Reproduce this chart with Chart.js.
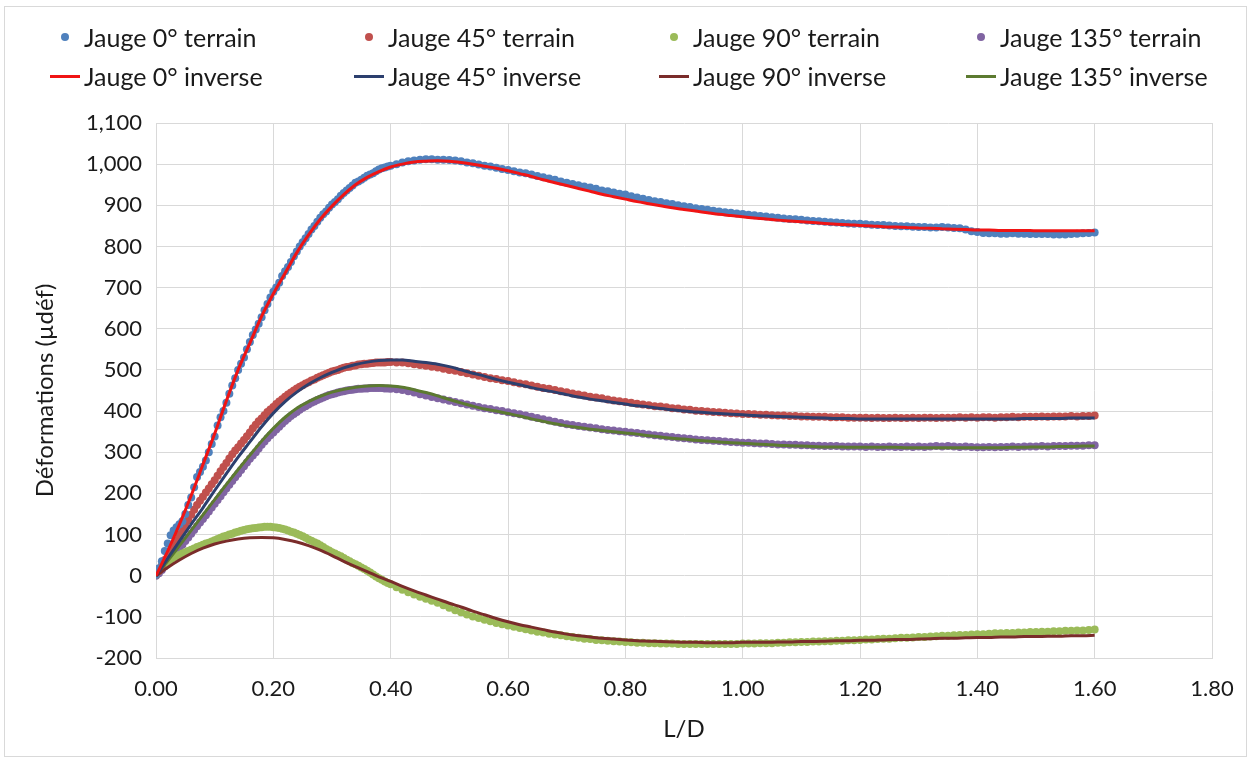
<!DOCTYPE html>
<html>
<head>
<meta charset="utf-8">
<title>Jauges - terrain / inverse</title>
<script src="https://cdn.jsdelivr.net/npm/chart.js"></script>
<style>
  html, body { margin: 0; padding: 0; background: #fff; }
  #wrap { position: relative; width: 1252px; height: 761px; font-family: Lato, "Open Sans", sans-serif; }
  #frame { position: absolute; left: 4px; top: 6px; width: 1243px; height: 751px; border: 1px solid #d9d9d9; box-sizing: border-box; }
  #chart { position: absolute; left: 0; top: 0; }
  .leg { position: absolute; height: 30px; line-height: 30px; font-size: 25px; color: #1a1a1a; white-space: nowrap; }
  .leg .sym { position: absolute; left: 0; top: 0; width: 30px; height: 30px; }
  .leg .dot { position: absolute; left: 11px; top: 11px; width: 8px; height: 8px; border-radius: 50%; }
  .leg .bar { position: absolute; left: 0; top: 14px; width: 30px; height: 3px; }
  .leg .txt { position: absolute; left: 34px; top: 0; }
</style>
</head>
<body>
<div id="wrap">
  <div id="frame"></div>
  <canvas id="chart" width="1252" height="761"></canvas>
  <div id="legend"></div>
</div>
<script>
// L/D sampling of the field gauges (finer over the rising part)
const terrainX = [
  0.000,0.005,0.010,0.015,0.020,0.025,0.030,0.035,0.040,0.045,
  0.050,0.055,0.060,0.065,0.070,0.075,0.080,0.085,0.090,0.095,
  0.100,0.105,0.110,0.115,0.120,0.125,0.130,0.135,0.140,0.145,
  0.150,0.155,0.160,0.165,0.170,0.175,0.180,0.185,0.190,0.195,
  0.200,0.205,0.210,0.215,0.220,0.225,0.230,0.235,0.240,0.245,
  0.250,0.255,0.260,0.265,0.270,0.275,0.280,0.285,0.290,0.295,
  0.300,0.305,0.310,0.315,0.320,0.325,0.330,0.335,0.340,0.345,
  0.350,0.355,0.360,0.365,0.370,0.375,0.380,0.385,0.390,0.395,
  0.40,0.41,0.42,0.43,0.44,0.45,0.46,0.47,0.48,0.49,
  0.50,0.51,0.52,0.53,0.54,0.55,0.56,0.57,0.58,0.59,
  0.60,0.61,0.62,0.63,0.64,0.65,0.66,0.67,0.68,0.69,
  0.70,0.71,0.72,0.73,0.74,0.75,0.76,0.77,0.78,0.79,
  0.80,0.81,0.82,0.83,0.84,0.85,0.86,0.87,0.88,0.89,
  0.90,0.91,0.92,0.93,0.94,0.95,0.96,0.97,0.98,0.99,
  1.00,1.01,1.02,1.03,1.04,1.05,1.06,1.07,1.08,1.09,
  1.10,1.11,1.12,1.13,1.14,1.15,1.16,1.17,1.18,1.19,
  1.20,1.21,1.22,1.23,1.24,1.25,1.26,1.27,1.28,1.29,
  1.30,1.31,1.32,1.33,1.34,1.35,1.36,1.37,1.38,1.39,
  1.40,1.41,1.42,1.43,1.44,1.45,1.46,1.47,1.48,1.49,
  1.50,1.51,1.52,1.53,1.54,1.55,1.56,1.57,1.58,1.59,
  1.60
];

// measured strains (µdef)
const jauge0Terrain = [
  2,18,35,60,78,98,110,118,125,132,
  150,172,190,215,240,252,265,280,300,320,
  338,365,385,400,420,442,462,480,500,515,
  530,550,568,585,598,612,628,645,660,676,
  690,700,712,728,740,750,762,776,788,800,
  810,820,830,841,850,860,870,878,885,894,
  902,908,915,923,930,936,942,948,955,958,
  962,967,972,975,978,983,987,990,992,994,
  996,1000,1004,1007,1009,1011,1012,1012,1011,1011,
  1010,1009,1007,1004,1002,999,996,994,991,988,
  986,983,980,978,975,971,968,965,962,958,
  955,952,949,946,943,940,936,934,931,928,
  926,922,919,916,913,910,908,905,903,900,
  898,896,893,891,889,887,885,883,882,880,
  879,877,876,874,873,871,870,868,867,866,
  865,863,862,861,860,859,858,857,856,855,
  855,854,853,852,852,851,850,849,849,848,
  847,847,846,846,847,846,845,844,841,837,
  835,833,832,832,831,831,832,831,831,830,
  830,830,830,829,829,829,830,831,832,833,
  834
];
const jauge45Terrain = [
  2,12,25,38,50,62,72,86,100,110,
  120,135,148,160,172,182,192,202,212,222,
  232,243,254,264,274,285,295,304,312,321,
  330,339,348,358,367,375,382,390,398,404,
  410,417,423,429,435,440,445,450,455,459,
  463,467,470,474,477,481,484,487,490,493,
  496,498,500,503,505,507,508,510,511,513,
  514,515,515,516,517,518,518,518,518,519,
  519,518,518,516,514,512,510,508,506,503,
  500,498,495,492,489,486,483,480,478,475,
  473,470,467,465,462,459,456,454,451,448,
  446,443,440,438,435,433,431,428,426,424,
  422,420,418,416,414,412,411,409,407,406,
  404,403,401,400,399,398,397,396,395,394,
  393,393,392,391,391,390,389,389,388,388,
  387,387,386,386,386,385,385,385,384,384,
  384,384,383,384,383,383,384,383,383,384,
  383,384,384,383,384,384,384,385,384,385,
  384,385,385,384,385,385,386,385,386,386,
  386,387,386,387,387,387,388,387,388,388,
  389
];
const jauge90Terrain = [
  2,12,22,28,34,39,44,47,50,54,
  57,60,63,66,70,72,75,78,80,83,
  86,89,92,95,97,100,102,105,107,109,
  111,113,114,115,116,117,118,119,119,119,
  118,117,116,114,112,110,107,105,102,99,
  96,92,88,85,81,78,74,70,65,61,
  57,54,50,47,43,39,35,31,28,24,
  20,16,12,8,3,-2,-6,-10,-14,-18,
  -21,-28,-34,-40,-46,-51,-56,-61,-66,-72,
  -78,-84,-89,-94,-99,-103,-107,-111,-115,-118,
  -121,-124,-127,-130,-133,-136,-138,-141,-143,-145,
  -147,-149,-151,-153,-154,-156,-157,-158,-159,-160,
  -161,-162,-163,-163,-164,-164,-165,-165,-165,-166,
  -166,-166,-166,-166,-166,-166,-166,-166,-166,-166,
  -165,-165,-165,-164,-164,-164,-163,-163,-162,-162,
  -161,-161,-160,-160,-159,-159,-158,-158,-157,-157,
  -156,-155,-155,-154,-153,-153,-152,-151,-151,-150,
  -149,-149,-148,-147,-146,-146,-145,-144,-144,-143,
  -142,-142,-141,-140,-140,-139,-139,-138,-138,-137,
  -137,-136,-136,-135,-135,-134,-134,-133,-133,-132,
  -131
];
const jauge135Terrain = [
  0,6,14,23,32,41,50,58,66,75,
  84,93,102,111,120,129,138,147,156,166,
  175,184,193,203,212,221,230,239,248,257,
  266,275,284,292,300,309,318,326,334,341,
  348,355,362,369,376,382,388,393,398,403,
  408,412,416,420,423,427,430,433,436,439,
  441,443,445,447,448,450,451,452,453,454,
  454,455,455,456,456,456,456,456,455,455,
  454,453,451,448,445,441,438,434,431,428,
  425,422,419,416,413,410,407,405,402,400,
  397,395,392,389,386,383,380,377,374,371,
  368,366,364,362,360,358,356,354,353,351,
  350,348,347,345,343,341,340,338,337,335,
  334,333,331,330,329,328,327,326,325,324,
  323,323,322,321,321,320,319,319,318,318,
  317,317,316,316,315,315,315,314,314,314,
  314,313,314,313,313,314,313,313,314,313,
  314,313,314,315,314,315,314,313,314,313,
  312,312,313,312,313,313,314,313,314,314,
  314,315,314,315,315,315,316,316,316,317,
  317
];

// L/D sampling of the back-calculated curves
const inverseX = [
  0.00,0.02,0.04,0.06,0.08,0.10,0.12,0.14,0.16,0.18,
  0.20,0.22,0.24,0.26,0.28,0.30,0.32,0.34,0.36,0.38,
  0.40,0.42,0.44,0.46,0.48,0.50,0.52,0.54,0.56,0.58,
  0.60,0.62,0.64,0.66,0.68,0.70,0.72,0.74,0.76,0.78,
  0.80,0.82,0.84,0.86,0.88,0.90,0.92,0.94,0.96,0.98,
  1.00,1.02,1.04,1.06,1.08,1.10,1.12,1.14,1.16,1.18,
  1.20,1.22,1.24,1.26,1.28,1.30,1.32,1.34,1.36,1.38,
  1.40,1.42,1.44,1.46,1.48,1.50,1.52,1.54,1.56,1.58,
  1.60
];
const jauge0Inverse = [
  0,60,125,195,270,345,425,500,565,630,
  685,735,785,828,866,898,926,950,968,982,
  993,1000,1005,1007,1008,1007,1004,1000,995,990,
  984,977,970,962,955,948,941,934,927,921,
  915,909,904,899,894,890,886,882,878,875,
  872,869,867,864,862,860,858,856,854,853,
  851,850,848,847,846,845,844,843,842,841,
  840,840,839,839,839,838,838,838,838,838,
  838
];
const jauge45Inverse = [
  0,42,84,125,165,207,248,288,325,362,
  395,423,446,465,481,494,505,513,519,523,
  524,524,521,518,514,508,500,492,485,477,
  470,464,457,451,446,440,434,429,425,421,
  417,413,410,406,403,400,398,396,394,392,
  391,389,388,387,386,385,384,383,382,382,
  381,381,381,381,381,381,381,381,381,381,
  381,381,381,381,382,382,382,382,383,383,
  383
];
const jauge90Inverse = [
  0,20,38,54,67,77,84,89,92,93,
  92,88,82,73,62,49,35,22,10,-3,
  -14,-26,-37,-47,-57,-67,-76,-86,-95,-104,
  -112,-119,-125,-131,-137,-142,-146,-149,-152,-154,
  -156,-158,-159,-160,-161,-162,-162,-163,-163,-163,
  -162,-162,-162,-161,-161,-160,-160,-159,-158,-158,
  -157,-157,-156,-155,-155,-154,-153,-152,-152,-151,
  -150,-150,-149,-149,-148,-148,-147,-147,-146,-146,
  -145
];
const jauge135Inverse = [
  0,36,73,110,148,185,222,258,293,327,
  358,385,407,423,436,446,453,458,461,462,
  461,458,452,445,437,428,420,412,405,400,
  394,388,381,375,369,364,360,356,353,350,
  347,344,340,337,334,332,329,327,325,323,
  322,320,319,317,316,315,314,313,313,312,
  312,312,312,312,311,311,311,311,311,311,
  311,311,311,312,312,313,313,314,314,315,
  315
];

const xTicks = [0, 0.2, 0.4, 0.6, 0.8, 1.0, 1.2, 1.4, 1.6, 1.8];

const textColor = '#1a1a1a';
const gridColor = '#d9d9d9';

function pts(xs, ys) {
  return xs.map((x, i) => ({ x: x, y: ys[i] }));
}

function terrainSet(label, ys, color) {
  return {
    label: label, data: pts(terrainX, ys), showLine: false,
    pointRadius: 4, pointBorderWidth: 0, pointBackgroundColor: color,
    backgroundColor: color, borderColor: color, order: 1,
    legend: 'dot'
  };
}

function inverseSet(label, ys, color) {
  return {
    label: label, data: pts(inverseX, ys), showLine: true,
    borderColor: color, backgroundColor: color, borderWidth: 3,
    pointRadius: 0, cubicInterpolationMode: 'monotone', order: 0,
    legend: 'bar'
  };
}

const datasets = [
  terrainSet('Jauge 0° terrain', jauge0Terrain, '#4f81bd'),
  terrainSet('Jauge 45° terrain', jauge45Terrain, '#c0504d'),
  terrainSet('Jauge 90° terrain', jauge90Terrain, '#9bbb59'),
  terrainSet('Jauge 135° terrain', jauge135Terrain, '#8064a2'),
  inverseSet('Jauge 0° inverse', jauge0Inverse, '#f01414'),
  inverseSet('Jauge 45° inverse', jauge45Inverse, '#2c3f6e'),
  inverseSet('Jauge 90° inverse', jauge90Inverse, '#7a2c2a'),
  inverseSet('Jauge 135° inverse', jauge135Inverse, '#5c7a30')
];

const chart = new Chart(document.getElementById('chart'), {
  type: 'scatter',
  data: { datasets: datasets },
  options: {
    responsive: false,
    animation: false,
    layout: { padding: { top: 123, right: 40, bottom: 0, left: 0 } },
    plugins: { legend: { display: false }, tooltip: { enabled: false } },
    scales: {
      x: {
        type: 'linear', min: 0, max: 1.8,
        afterBuildTicks: s => { s.ticks = xTicks.map(v => ({ value: v })); },
        afterFit: s => { s.height = 103; },
        ticks: {
          callback: v => Number(v).toFixed(2),
          font: { family: 'Lato', size: 22 }, color: textColor,
          padding: 18, maxRotation: 0
        },
        grid: { color: gridColor, drawTicks: false },
        border: { color: gridColor },
        title: {
          display: true, text: 'L/D', color: textColor,
          font: { family: 'Lato', size: 24 }, padding: { top: 0, bottom: 17 }
        }
      },
      y: {
        type: 'linear', min: -200, max: 1100,
        afterFit: s => { s.width = 156; },
        ticks: {
          stepSize: 100,
          callback: v => v.toLocaleString('en-US'),
          font: { family: 'Lato', size: 22 }, color: textColor, padding: 14
        },
        grid: { color: gridColor, drawTicks: false },
        border: { color: gridColor },
        title: {
          display: true, text: 'Déformations (µdéf)', color: textColor,
          font: { family: 'Lato', size: 24 }, padding: { top: 31, bottom: 0 }
        }
      }
    }
  }
});

// legend laid out as a 4 x 2 grid, same order as the series
const legendCols = [50, 354, 659, 966];
const legendRows = [22, 61];
const legendBox = document.getElementById('legend');
chart.data.datasets.forEach((ds, i) => {
  const item = document.createElement('div');
  item.className = 'leg';
  item.style.left = legendCols[i % 4] + 'px';
  item.style.top = legendRows[Math.floor(i / 4)] + 'px';
  const sym = document.createElement('span');
  sym.className = 'sym';
  const mark = document.createElement('span');
  mark.className = ds.legend;
  mark.style.background = ds.legend === 'dot' ? ds.pointBackgroundColor : ds.borderColor;
  sym.appendChild(mark);
  const txt = document.createElement('span');
  txt.className = 'txt';
  txt.textContent = ds.label;
  item.appendChild(sym);
  item.appendChild(txt);
  legendBox.appendChild(item);
});
</script>
</body>
</html>
